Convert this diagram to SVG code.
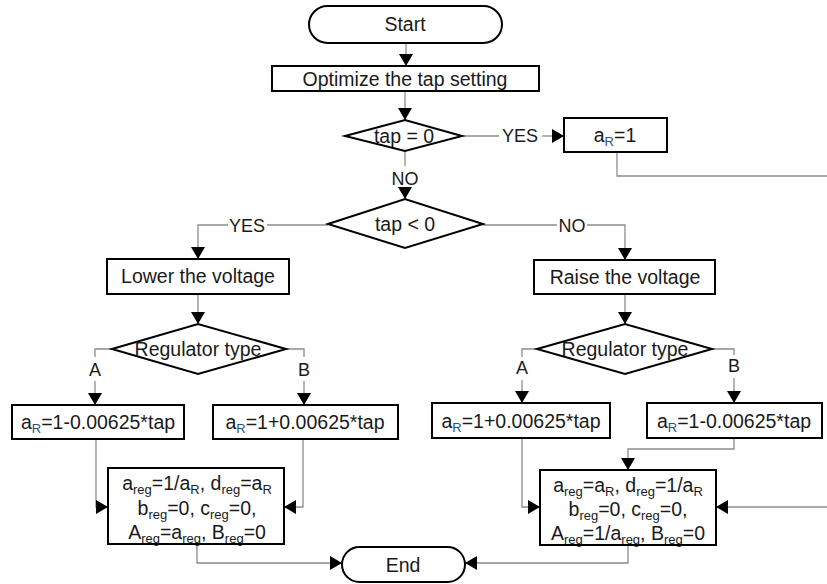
<svg xmlns="http://www.w3.org/2000/svg" width="827" height="584" viewBox="0 0 827 584">
<defs>
<style>
.shape{fill:#fff;stroke:#000;stroke-width:2}
.conn{fill:none;stroke:#8c8c8c;stroke-width:1.3}
.arr{marker-end:url(#ah)}
text{font-family:"Liberation Sans",Arial,sans-serif;font-size:19.5px;fill:#1a1a1a;text-anchor:middle}
.lbl{font-size:18px}
.sub{font-size:13px}
.rb{fill:#2a4f85}
</style>
<marker id="ah" markerUnits="userSpaceOnUse" markerWidth="13" markerHeight="14" refX="12" refY="7" orient="auto">
<path d="M0,0 L12,7 L0,14 Z" fill="#000"/>
</marker>
</defs>
<rect width="827" height="584" fill="#fff"/>

<g id="connectors">
<path class="conn arr" d="M406,43 V66"/>
<path class="conn arr" d="M405,91 V120"/>
<path class="conn" d="M462,136 H499"/>
<path class="conn arr" d="M542,136 H564"/>
<path class="conn" d="M617,152 V176 H827"/>
<path class="conn" d="M405,151 V166"/>
<path class="conn arr" d="M405,189 V199"/>
<path class="conn" d="M328,225 H267"/>
<path class="conn arr" d="M228,225 H198 V259"/>
<path class="conn" d="M483,225 H557"/>
<path class="conn arr" d="M587,225 H625 V260"/>
<path class="conn arr" d="M198,294 V324"/>
<path class="conn arr" d="M625,294 V324"/>
<path class="conn" d="M112,349 H95 V357"/>
<path class="conn arr" d="M95,381 V405"/>
<path class="conn" d="M286,349 H304 V357"/>
<path class="conn arr" d="M304,381 V405"/>
<path class="conn" d="M537,349 H522 V357"/>
<path class="conn arr" d="M522,380 V403"/>
<path class="conn" d="M712,349 H734 V355"/>
<path class="conn arr" d="M734,378 V403"/>
<path class="conn arr" d="M96,439 V507 H108"/>
<path class="conn arr" d="M303,439 V507 H284"/>
<path class="conn arr" d="M197,544 V563 H342"/>
<path class="conn arr" d="M522,438 V507 H540"/>
<path class="conn arr" d="M734,438 V449 H628 V470"/>
<path class="conn arr" d="M827,507 H716"/>
<path class="conn arr" d="M628,545 V563 H465"/>
<text class="lbl" x="520" y="142">YES</text>
<text class="lbl" x="405" y="185">NO</text>
<text class="lbl" x="247" y="232">YES</text>
<text class="lbl" x="572" y="232">NO</text>
<text class="lbl" x="95" y="376">A</text>
<text class="lbl" x="304" y="376">B</text>
<text class="lbl" x="522" y="374">A</text>
<text class="lbl" x="734" y="372">B</text>
</g>

<g id="start">
<rect class="shape" x="309" y="6" width="193" height="37" rx="18.5"/>
<text x="405" y="31">Start</text>
</g>
<g id="optimize">
<rect class="shape" x="272" y="66" width="267" height="25"/>
<text x="405" y="86">Optimize the tap setting</text>
</g>
<g id="tap0">
<polygon class="shape" points="345,136 405,120 462,136 405,151"/>
<text x="404" y="143">tap = 0</text>
</g>
<g id="ar1">
<rect class="shape" x="564" y="118" width="103" height="34"/>
<text x="615" y="142">a<tspan class="sub rb" dy="4">R</tspan><tspan dy="-4">=1</tspan></text>
</g>
<g id="taplt0">
<polygon class="shape" points="328,224 405,199 483,224 405,248"/>
<text x="405" y="231">tap &lt; 0</text>
</g>
<g id="lower">
<rect class="shape" x="107" y="259" width="182" height="35"/>
<text x="198" y="283">Lower the voltage</text>
</g>
<g id="raise">
<rect class="shape" x="534" y="260" width="181" height="34"/>
<text x="625" y="284">Raise the voltage</text>
</g>
<g id="regtype-left">
<polygon class="shape" points="112,349 198,324 286,349 198,374"/>
<text x="198" y="356">Regulator type</text>
</g>
<g id="regtype-right">
<polygon class="shape" points="537,349 625,324 712,349 625,374"/>
<text x="625" y="356">Regulator type</text>
</g>
<g id="ar-lower-a">
<rect class="shape" x="12" y="405" width="172" height="34"/>
<text x="98" y="429">a<tspan class="sub rb" dy="4">R</tspan><tspan dy="-4">=1-0.00625*tap</tspan></text>
</g>
<g id="ar-lower-b">
<rect class="shape" x="213" y="405" width="185" height="34"/>
<text x="305" y="429">a<tspan class="sub rb" dy="4">R</tspan><tspan dy="-4">=1+0.00625*tap</tspan></text>
</g>
<g id="ar-raise-a">
<rect class="shape" x="432" y="403" width="178" height="35"/>
<text x="521" y="428">a<tspan class="sub rb" dy="4">R</tspan><tspan dy="-4">=1+0.00625*tap</tspan></text>
</g>
<g id="ar-raise-b">
<rect class="shape" x="647" y="403" width="175" height="35"/>
<text x="734" y="428">a<tspan class="sub rb" dy="4">R</tspan><tspan dy="-4">=1-0.00625*tap</tspan></text>
</g>
<g id="result-lower">
<rect class="shape" x="108" y="468" width="176" height="76"/>
<text x="197" y="490">a<tspan class="sub" dy="4">reg</tspan><tspan dy="-4">=1/a</tspan><tspan class="sub" dy="4">R</tspan><tspan dy="-4">, d</tspan><tspan class="sub" dy="4">reg</tspan><tspan dy="-4">=a</tspan><tspan class="sub" dy="4">R</tspan></text>
<text x="197" y="515">b<tspan class="sub" dy="4">reg</tspan><tspan dy="-4">=0, c</tspan><tspan class="sub" dy="4">reg</tspan><tspan dy="-4">=0,</tspan></text>
<text x="197" y="539">A<tspan class="sub" dy="4">reg</tspan><tspan dy="-4">=a</tspan><tspan class="sub" dy="4">reg</tspan><tspan dy="-4">, B</tspan><tspan class="sub" dy="4">reg</tspan><tspan dy="-4">=0</tspan></text>
</g>
<g id="result-raise">
<rect class="shape" x="540" y="470" width="176" height="75"/>
<text x="628" y="492">a<tspan class="sub" dy="4">reg</tspan><tspan dy="-4">=a</tspan><tspan class="sub" dy="4">R</tspan><tspan dy="-4">, d</tspan><tspan class="sub" dy="4">reg</tspan><tspan dy="-4">=1/a</tspan><tspan class="sub" dy="4">R</tspan></text>
<text x="628" y="516">b<tspan class="sub" dy="4">reg</tspan><tspan dy="-4">=0, c</tspan><tspan class="sub" dy="4">reg</tspan><tspan dy="-4">=0,</tspan></text>
<text x="628" y="540">A<tspan class="sub" dy="4">reg</tspan><tspan dy="-4">=1/a</tspan><tspan class="sub" dy="4">reg</tspan><tspan dy="-4">, B</tspan><tspan class="sub" dy="4">reg</tspan><tspan dy="-4">=0</tspan></text>
</g>
<g id="end">
<rect class="shape" x="342" y="547" width="123" height="35" rx="17.5"/>
<text x="403" y="572">End</text>
</g>
</svg>
